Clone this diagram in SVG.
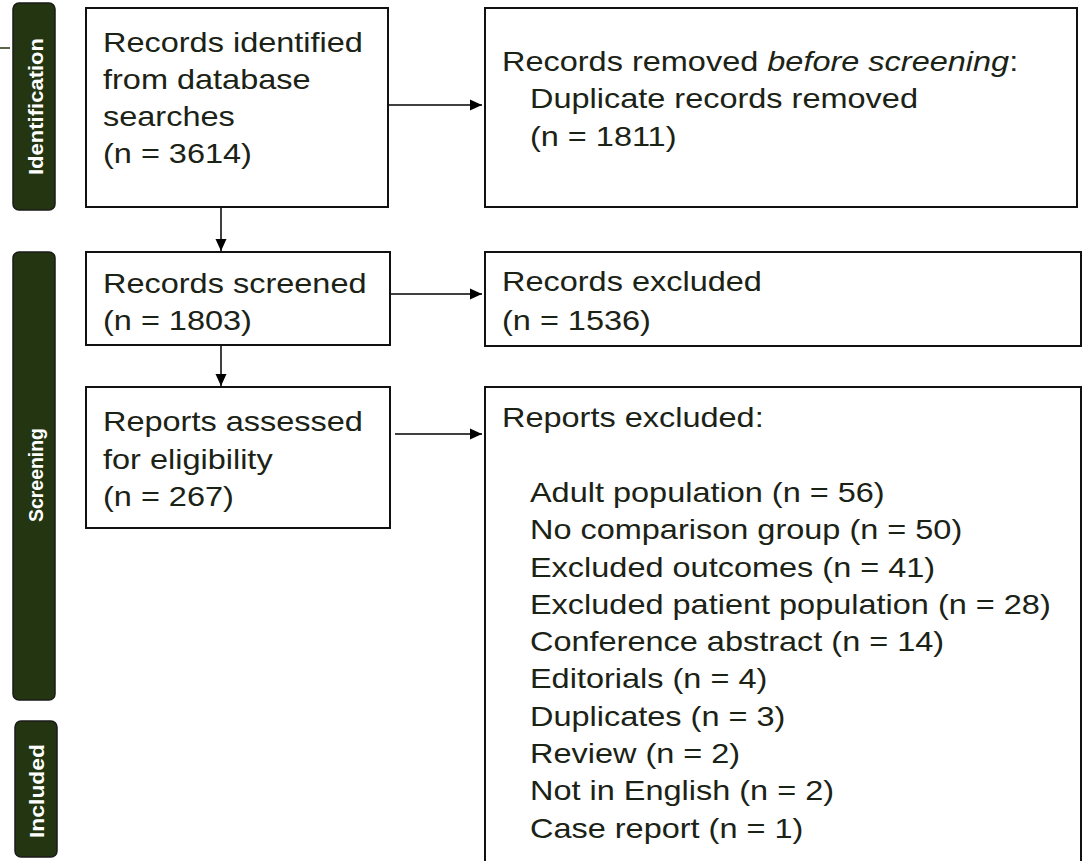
<svg xmlns="http://www.w3.org/2000/svg" width="1084" height="861" viewBox="0 0 1084 861">
  <defs>
    <marker id="arrow" viewBox="0 0 12 12" refX="12" refY="6" markerWidth="12" markerHeight="12" markerUnits="userSpaceOnUse" orient="auto">
      <path d="M0,0.5 L12,6 L0,11.5 z" fill="#000"/>
    </marker>
    <style>
      .box { fill: #fff; stroke: #111; stroke-width: 2; }
      .phase { fill: #243512; stroke: #1a1a1a; stroke-width: 1.5; }
      .phase-label { fill: #fff; font-family: "Liberation Sans", Arial, sans-serif; font-weight: bold; font-size: 21px; text-anchor: middle; }
      .t { fill: #1b2216; font-family: "Liberation Sans", Arial, sans-serif; font-size: 28px; }
      .conn { stroke: #000; stroke-width: 1.5; fill: none; marker-end: url(#arrow); }
    </style>
  </defs>
  <rect width="1084" height="861" fill="#fff"/>

  <!-- phase bars -->
  <g id="phase-identification">
    <line x1="0" y1="48" x2="10" y2="48" stroke="#243512" stroke-width="1.5"/>
    <rect class="phase" x="13" y="3" width="42" height="207" rx="6"/>
    <text class="phase-label" transform="translate(43,106.5) rotate(-90)" textLength="137" lengthAdjust="spacingAndGlyphs">Identification</text>
  </g>
  <g id="phase-screening">
    <rect class="phase" x="13" y="252" width="42" height="448" rx="6"/>
    <text class="phase-label" transform="translate(43,475) rotate(-90)" textLength="94" lengthAdjust="spacingAndGlyphs">Screening</text>
  </g>
  <g id="phase-included">
    <rect class="phase" x="15" y="721" width="42" height="136" rx="6"/>
    <text class="phase-label" transform="translate(44,791) rotate(-90)" textLength="94" lengthAdjust="spacingAndGlyphs">Included</text>
  </g>

  <!-- connectors -->
  <g id="connectors">
    <line class="conn" x1="388" y1="105" x2="482" y2="105"/>
    <line class="conn" x1="390" y1="294" x2="482" y2="294"/>
    <line class="conn" x1="395" y1="434" x2="482" y2="434"/>
    <line class="conn" x1="221" y1="207" x2="221" y2="251"/>
    <line class="conn" x1="221" y1="345" x2="221" y2="386"/>
  </g>

  <g id="records-identified">
    <rect class="box" x="86" y="8" width="302" height="199"/>
    <g transform="translate(103,0) scale(1.16,1)">
      <text class="t" x="0" y="52">Records identified</text>
      <text class="t" x="0" y="89">from database</text>
      <text class="t" x="0" y="126">searches</text>
      <text class="t" x="0" y="163">(n = 3614)</text>
    </g>
  </g>

  <g id="records-removed">
    <rect class="box" x="485" y="8" width="592" height="199"/>
    <g transform="translate(502,0) scale(1.16,1)">
      <text class="t" x="0" y="71">Records removed <tspan font-style="italic">before screening</tspan>:</text>
      <text class="t" x="24.1" y="108">Duplicate records removed</text>
      <text class="t" x="24.1" y="146">(n = 1811)</text>
    </g>
  </g>

  <g id="records-screened">
    <rect class="box" x="86" y="252" width="304" height="93"/>
    <g transform="translate(103,0) scale(1.16,1)">
      <text class="t" x="0" y="293">Records screened</text>
      <text class="t" x="0" y="330">(n = 1803)</text>
    </g>
  </g>

  <g id="records-excluded">
    <rect class="box" x="485" y="252" width="596" height="94"/>
    <g transform="translate(502,0) scale(1.16,1)">
      <text class="t" x="0" y="291">Records excluded</text>
      <text class="t" x="0" y="330">(n = 1536)</text>
    </g>
  </g>

  <g id="reports-assessed">
    <rect class="box" x="86" y="387" width="304" height="141"/>
    <g transform="translate(103,0) scale(1.16,1)">
      <text class="t" x="0" y="431">Reports assessed</text>
      <text class="t" x="0" y="469">for eligibility</text>
      <text class="t" x="0" y="506">(n = 267)</text>
    </g>
  </g>

  <g id="reports-excluded">
    <rect class="box" x="485" y="387" width="596" height="480"/>
    <g transform="translate(502,0) scale(1.16,1)">
      <text class="t" x="0" y="427">Reports excluded:</text>
      <text class="t" x="24.1" y="502">Adult population (n = 56)</text>
      <text class="t" x="24.1" y="539">No comparison group (n = 50)</text>
      <text class="t" x="24.1" y="577">Excluded outcomes (n = 41)</text>
      <text class="t" x="24.1" y="614">Excluded patient population (n = 28)</text>
      <text class="t" x="24.1" y="651">Conference abstract (n = 14)</text>
      <text class="t" x="24.1" y="688">Editorials (n = 4)</text>
      <text class="t" x="24.1" y="726">Duplicates (n = 3)</text>
      <text class="t" x="24.1" y="763">Review (n = 2)</text>
      <text class="t" x="24.1" y="800">Not in English (n = 2)</text>
      <text class="t" x="24.1" y="838">Case report (n = 1)</text>
    </g>
  </g>
</svg>
